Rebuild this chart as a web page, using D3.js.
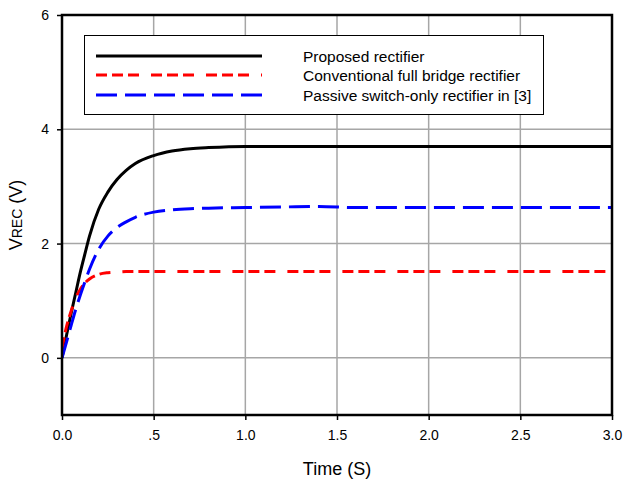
<!DOCTYPE html>
<html>
<head>
<meta charset="utf-8">
<script src="https://cdn.jsdelivr.net/npm/d3@7"></script>
<style>
  body { margin: 0; background: #fff; }
  text { font-family: "Liberation Sans", Arial, sans-serif; fill: #000; }
</style>
</head>
<body>
<svg id="drawing_region"></svg>
<script>
// time points (s)
const time = [0, 0.025, 0.05, 0.075, 0.1, 0.125, 0.15, 0.2, 0.25, 0.3, 0.35, 0.4,
    0.5, 0.6, 0.7, 0.8, 1.0, 1.2, 1.4, 1.6, 1.8, 2.0, 2.5, 3.0];
const proposed = [0, 0.4, 0.78, 1.14, 1.5, 1.82, 2.13, 2.6, 2.9, 3.12, 3.28, 3.4,
    3.54, 3.62, 3.66, 3.68, 3.7, 3.7, 3.7, 3.7, 3.7, 3.7, 3.7, 3.7];
const conventional = [0.17, 0.55, 0.82, 1.05, 1.2, 1.31, 1.38, 1.46, 1.49, 1.5, 1.51, 1.51,
    1.51, 1.51, 1.51, 1.51, 1.51, 1.51, 1.51, 1.51, 1.51, 1.51, 1.51, 1.51];
const passive = [0, 0.28, 0.57, 0.85, 1.1, 1.33, 1.55, 1.9, 2.13, 2.28, 2.38, 2.46,
    2.55, 2.59, 2.61, 2.62, 2.63, 2.64, 2.65, 2.63, 2.63, 2.63, 2.63, 2.63];

const seriesNames = ["Proposed rectifier", "Conventional full bridge rectifier", "Passive switch-only rectifier in [3]"];
const xTicks = [0, 0.5, 1.0, 1.5, 2.0, 2.5, 3.0];
const xTickLabels = ["0.0", ".5", "1.0", "1.5", "2.0", "2.5", "3.0"];
const yTicks = [0, 2, 4, 6];

const width = 624, height = 484;
const margin = { top: 15, right: 12, bottom: 69, left: 62 };

const svg = d3.select("#drawing_region")
    .attr("width", width)
    .attr("height", height);

const x = d3.scaleLinear().domain([0, 3]).range([margin.left, width - margin.right]);
const y = d3.scaleLinear().domain([-1, 6]).range([height - margin.bottom, margin.top]);

// grid
svg.append("g")
    .selectAll("line")
    .data(xTicks.slice(1, -1))
    .join("line")
    .attr("x1", d => x(d)).attr("x2", d => x(d))
    .attr("y1", y(6)).attr("y2", y(-1))
    .attr("stroke", "#a6a6a6").attr("stroke-width", 1.5);

svg.append("g")
    .selectAll("line")
    .data(yTicks.slice(0, -1))
    .join("line")
    .attr("x1", x(0)).attr("x2", x(3))
    .attr("y1", d => y(d)).attr("y2", d => y(d))
    .attr("stroke", "#a6a6a6").attr("stroke-width", 1.5);

// axes
const xAxis = svg.append("g")
    .attr("transform", `translate(0,${y(-1)})`)
    .call(d3.axisBottom(x).tickValues(xTicks).tickSize(5).tickPadding(10)
        .tickFormat((d, i) => xTickLabels[i]));
const yAxis = svg.append("g")
    .attr("transform", `translate(${x(0)},0)`)
    .call(d3.axisLeft(y).tickValues(yTicks).tickSize(5).tickPadding(8)
        .tickFormat(d3.format("d")));

[xAxis, yAxis].forEach(a => {
    a.select(".domain").remove();
    a.selectAll(".tick line").attr("stroke", "#000").attr("stroke-width", 1.5);
    a.selectAll(".tick text").attr("font-size", "14px")
        .style("font-family", "'Liberation Sans', Arial, sans-serif");
});

// lines
const rows = time.map((t, i) => ({ t, p: proposed[i], c: conventional[i], s: passive[i] }));
const styles = [
    { key: "p", color: "#000000", dash: null },
    { key: "c", color: "#ff0000", dash: "11,5,11,5,11,12" },
    { key: "s", color: "#0000ff", dash: "21,8" }
];

svg.append("clipPath").attr("id", "plotclip")
    .append("rect")
    .attr("x", x(0)).attr("y", y(6))
    .attr("width", x(3) - x(0)).attr("height", y(-1) - y(6));

styles.forEach(st => {
    const line = d3.line()
        .x(d => x(d.t))
        .y(d => y(d[st.key]))
        .curve(d3.curveMonotoneX);
    svg.append("path")
        .datum(rows)
        .attr("clip-path", "url(#plotclip)")
        .attr("d", line)
        .attr("fill", "none")
        .attr("stroke", st.color)
        .attr("stroke-width", 3)
        .attr("stroke-dasharray", st.dash);
});

// frame
svg.append("rect")
    .attr("x", x(0)).attr("y", y(6))
    .attr("width", x(3) - x(0)).attr("height", y(-1) - y(6))
    .attr("fill", "none")
    .attr("stroke", "#000")
    .attr("stroke-width", 2.5);

// legend
const legend = svg.append("g");
legend.append("rect")
    .attr("x", 84.5).attr("y", 35.5)
    .attr("width", 459).attr("height", 79)
    .attr("fill", "#fff")
    .attr("stroke", "#000")
    .attr("stroke-width", 1);

const legendY = [56, 75, 95];
styles.forEach((st, i) => {
    legend.append("line")
        .attr("x1", 96).attr("x2", 262)
        .attr("y1", legendY[i]).attr("y2", legendY[i])
        .attr("stroke", st.color)
        .attr("stroke-width", 3)
        .attr("stroke-dasharray", st.dash);
    legend.append("text")
        .attr("x", 303)
        .attr("y", legendY[i] + 5.5)
        .attr("font-size", "15.5px")
        .text(seriesNames[i]);
});

// axis titles
svg.append("text")
    .attr("x", (x(0) + x(3)) / 2)
    .attr("y", 475)
    .attr("text-anchor", "middle")
    .attr("font-size", "18px")
    .text("Time (S)");

const yTitle = svg.append("text")
    .attr("transform", `translate(22, ${(y(6) + y(-1)) / 2}) rotate(-90)`)
    .attr("text-anchor", "middle")
    .attr("font-size", "18px");
yTitle.append("tspan").text("V");
yTitle.append("tspan").attr("font-size", "14px").text("REC");
yTitle.append("tspan").text(" (V)");
</script>
</body>
</html>
